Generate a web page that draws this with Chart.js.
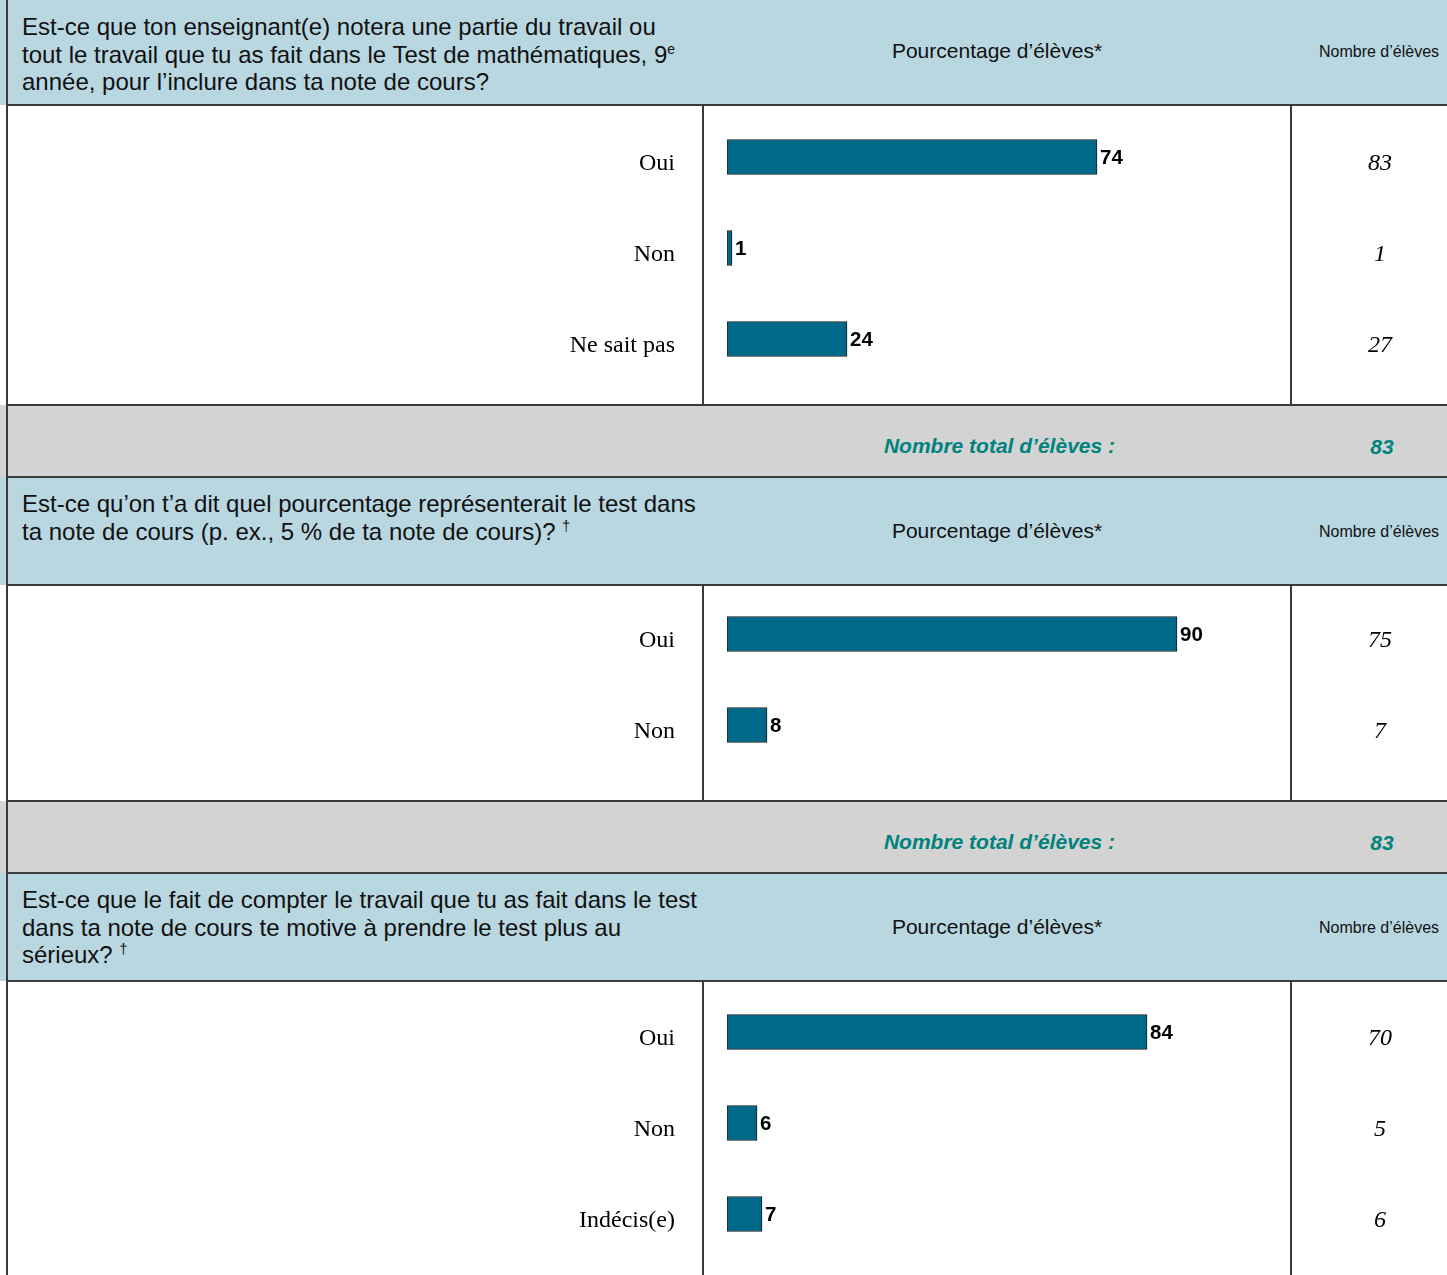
<!DOCTYPE html>
<html lang="fr">
<head>
<meta charset="utf-8">
<script src="https://cdn.jsdelivr.net/npm/chart.js@4"></script>
<style>
  html, body { margin: 0; padding: 0; background: #fff; }
  #page { position: relative; width: 1447px; height: 1275px; overflow: hidden; font-family: "Liberation Sans", Arial, sans-serif; }
  .blk { position: absolute; left: 0; width: 1447px; }
  .hdr { background: #b9d7e1; }
  .tot { background: #d3d3d3; }
  .q { position: absolute; left: 22px; top: 13px; white-space: nowrap; font-size: 24px; line-height: 27.5px; color: #111; }
  .q sup { font-size: 14px; line-height: 0; vertical-align: 9px; }
  .pct { position: absolute; left: 703px; width: 588px; text-align: center; font-size: 21px; color: #111; }
  .nb { position: absolute; left: 1300px; width: 158px; text-align: center; font-size: 16px; color: #111; }
  .tl { position: absolute; right: 332px; font-size: 21px; font-weight: bold; font-style: italic; color: #00827e; }
  .tn { position: absolute; left: 1342px; width: 80px; text-align: center; font-size: 21px; font-weight: bold; font-style: italic; color: #00827e; }
  .hl { position: absolute; left: 6px; width: 1441px; height: 2px; background: #3a3a3a; }
  .vl { position: absolute; width: 2px; background: #3a3a3a; }
  canvas { position: absolute; left: 8px; }
</style>
</head>
<body>
<div id="page">
  <!-- section 1 -->
  <div class="blk hdr" style="top:0;height:105px">
    <div class="q">Est-ce que ton enseignant(e) notera une partie du travail ou<br>tout le travail que tu as fait dans le Test de mathématiques, 9<sup>e</sup><br>année, pour l’inclure dans ta note de cours?</div>
    <div class="pct" style="top:39px">Pourcentage d’élèves*</div>
    <div class="nb" style="top:43px">Nombre d’élèves</div>
  </div>
  <div class="blk tot" style="top:405px;height:72px">
    <div class="tl" style="top:29px">Nombre total d’élèves :</div>
    <div class="tn" style="top:30px">83</div>
  </div>

  <!-- section 2 -->
  <div class="blk hdr" style="top:477px;height:108px">
    <div class="q">Est-ce qu’on t’a dit quel pourcentage représenterait le test dans<br>ta note de cours (p. ex., 5 % de ta note de cours)? <sup>†</sup></div>
    <div class="pct" style="top:42px">Pourcentage d’élèves*</div>
    <div class="nb" style="top:46px">Nombre d’élèves</div>
  </div>
  <div class="blk tot" style="top:801px;height:72px">
    <div class="tl" style="top:29px">Nombre total d’élèves :</div>
    <div class="tn" style="top:30px">83</div>
  </div>

  <!-- section 3 -->
  <div class="blk hdr" style="top:873px;height:108px">
    <div class="q">Est-ce que le fait de compter le travail que tu as fait dans le test<br>dans ta note de cours te motive à prendre le test plus au<br>sérieux? <sup>†</sup></div>
    <div class="pct" style="top:42px">Pourcentage d’élèves*</div>
    <div class="nb" style="top:46px">Nombre d’élèves</div>
  </div>

  <!-- rules -->
  <div class="vl" style="left:6px;top:0;height:1275px"></div>
  <div class="hl" style="top:104px"></div>
  <div class="hl" style="top:404px"></div>
  <div class="hl" style="top:476px"></div>
  <div class="hl" style="top:584px"></div>
  <div class="hl" style="top:800px"></div>
  <div class="hl" style="top:872px"></div>
  <div class="hl" style="top:980px"></div>
  <div class="vl" style="left:702px;top:105px;height:300px"></div>
  <div class="vl" style="left:1290px;top:105px;height:300px"></div>
  <div class="vl" style="left:702px;top:585px;height:216px"></div>
  <div class="vl" style="left:1290px;top:585px;height:216px"></div>
  <div class="vl" style="left:702px;top:981px;height:294px"></div>
  <div class="vl" style="left:1290px;top:981px;height:294px"></div>

  <!-- canvases start 20px above each body so the axis label padding never pushes the plot area -->
  <canvas id="c1" style="top:85px" width="1439" height="320"></canvas>
  <canvas id="c2" style="top:565px" width="1439" height="236"></canvas>
  <canvas id="c3" style="top:961px" width="1439" height="314"></canvas>
</div>

<script>
// Q1 : note incluse dans la note de cours
const q1Labels = ["Oui", "Non", "Ne sait pas"];
const q1Pct = [74, 1, 24];
const q1Count = [83, 1, 27];

// Q2 : pourcentage annoncé
const q2Labels = ["Oui", "Non"];
const q2Pct = [90, 8];
const q2Count = [75, 7];

// Q3 : motivation
const q3Labels = ["Oui", "Non", "Indécis(e)"];
const q3Pct = [84, 6, 7];
const q3Count = [70, 5, 6];

const barColor = "#00698a";

// valeur à droite de la barre + nombre d'élèves dans la dernière colonne
const valueLabels = {
  id: "valueLabels",
  afterDatasetsDraw(chart, args, opts) {
    const ctx = chart.ctx;
    const meta = chart.getDatasetMeta(0);
    const ds = chart.data.datasets[0];
    ctx.save();
    ctx.textBaseline = "middle";
    meta.data.forEach((bar, i) => {
      ctx.fillStyle = "#000";
      ctx.font = "bold 20.5px 'Liberation Sans', Arial, sans-serif";
      ctx.textAlign = "left";
      ctx.fillText(ds.data[i], bar.x + 3, bar.y + 1);
      ctx.font = "italic 24px 'Liberation Serif', 'Times New Roman', serif";
      ctx.textAlign = "center";
      ctx.fillText(opts.counts[i], 1372, bar.y + 7);
    });
    ctx.restore();
  }
};

function makeChart(id, labels, pct, counts, padTop, padBottom) {
  new Chart(document.getElementById(id), {
    type: "bar",
    data: {
      labels: labels,
      datasets: [{
        data: pct,
        backgroundColor: barColor,
        borderColor: "#1a1a1a",
        borderWidth: 1,
        borderSkipped: false,
        barThickness: 35
      }]
    },
    options: {
      indexAxis: "y",
      responsive: false,
      animation: false,
      layout: { padding: { top: padTop, bottom: padBottom, left: 0, right: 220 } },
      scales: {
        x: { display: false, min: 0, max: 100 },
        y: {
          grid: { display: false, drawTicks: true, tickLength: 52 },
          border: { display: false },
          afterFit(scale) { scale.width = 719; },
          ticks: {
            padding: 0,
            labelOffset: 7,
            color: "#000",
            font: { family: "'Liberation Serif', 'Times New Roman', serif", size: 24 }
          }
        }
      },
      plugins: {
        legend: { display: false },
        tooltip: { enabled: false },
        valueLabels: { counts: counts }
      }
    },
    plugins: [valueLabels]
  });
}

makeChart("c1", q1Labels, q1Pct, q1Count, 26.5, 20.5);
makeChart("c2", q2Labels, q2Pct, q2Count, 23.5, 30.5);
makeChart("c3", q3Labels, q3Pct, q3Count, 25.5, 15.5);
</script>
</body>
</html>
